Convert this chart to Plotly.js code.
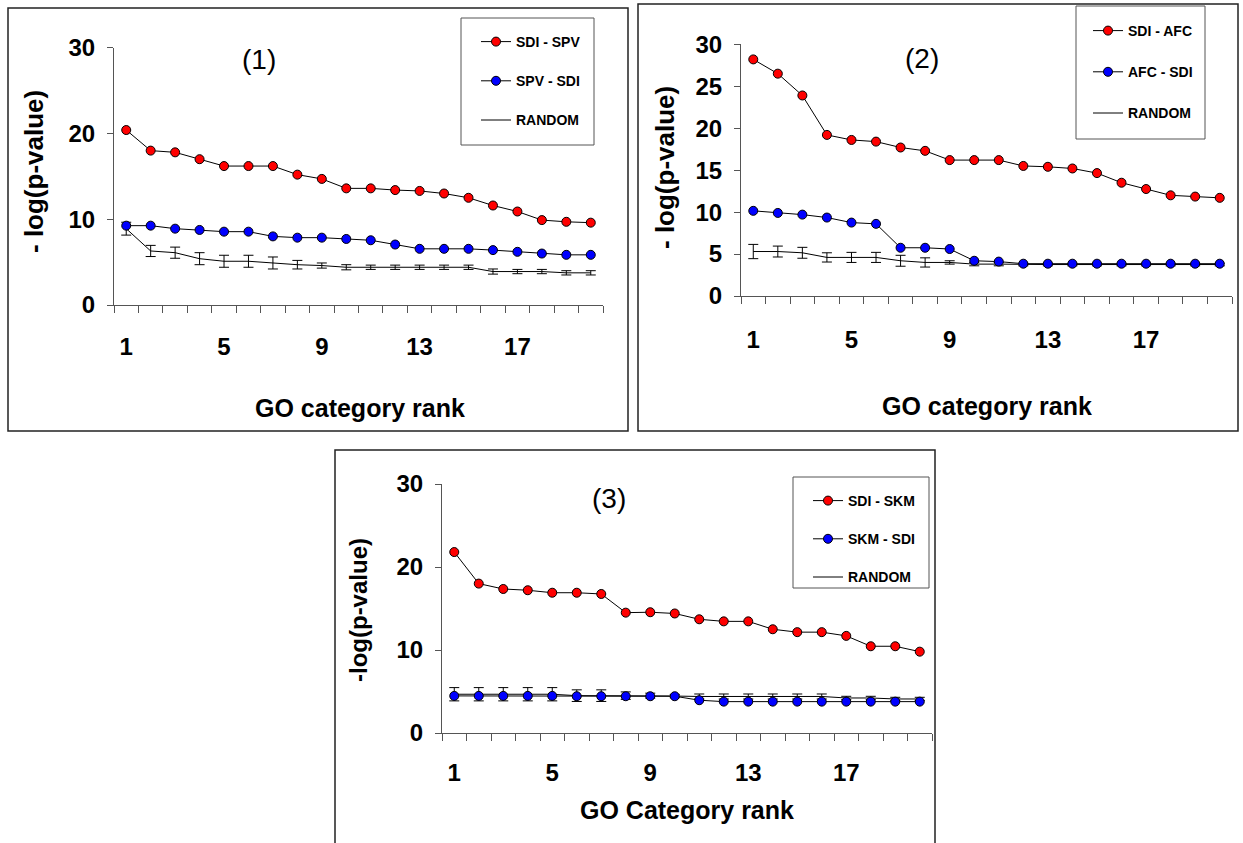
<!DOCTYPE html>
<html>
<head>
<meta charset="utf-8">
<script src="https://cdn.plot.ly/plotly-3.0.1.min.js"></script>
<style>html,body{margin:0;padding:0;background:#fff;}#chart{width:1243px;height:843px;}</style>
</head>
<body>
<div id="chart"></div>
<script>
// ---------- data ----------
const ranks = [1,2,3,4,5,6,7,8,9,10,11,12,13,14,15,16,17,18,19,20];
const rankTickVals = [1,5,9,13,17];
const rankTickText = ['1','5','9','13','17'];

// Panel (1)
const p1SdiSpv = [20.4,18.0,17.8,17.0,16.2,16.2,16.2,15.2,14.7,13.6,13.6,13.4,13.3,13.0,12.5,11.6,10.9,9.9,9.7,9.6];
const p1SpvSdi = [9.25,9.25,8.9,8.75,8.55,8.55,8.0,7.85,7.85,7.7,7.55,7.05,6.55,6.55,6.55,6.4,6.2,6.0,5.85,5.85];
const p1Random = [8.9,6.3,6.1,5.4,5.1,5.1,4.9,4.7,4.6,4.4,4.4,4.4,4.4,4.4,4.4,3.9,3.9,3.9,3.75,3.75];
const p1RandomErr = [0.75,0.65,0.65,0.7,0.7,0.7,0.7,0.5,0.3,0.3,0.25,0.25,0.25,0.25,0.25,0.3,0.25,0.25,0.25,0.25];

// Panel (2)
const p2SdiAfc = [28.2,26.5,23.9,19.2,18.6,18.4,17.7,17.3,16.2,16.2,16.2,15.5,15.4,15.2,14.65,13.5,12.75,12.0,11.85,11.7];
const p2AfcSdi = [10.15,9.9,9.7,9.35,8.75,8.6,5.75,5.75,5.6,4.2,4.1,3.85,3.85,3.85,3.85,3.85,3.85,3.85,3.85,3.85];
const p2Random = [5.3,5.3,5.15,4.6,4.6,4.6,4.2,4.0,4.0,3.8,3.8,3.75,3.75,3.75,3.75,3.75,3.75,3.75,3.75,3.75];
const p2RandomErr = [0.85,0.65,0.65,0.55,0.6,0.6,0.65,0.55,0.2,0.2,0.2,0.15,0.15,0.15,0.15,0.15,0.15,0.15,0.15,0.15];

// Panel (3)
const p3SdiSkm = [21.8,18.0,17.35,17.2,16.9,16.9,16.75,14.5,14.55,14.4,13.7,13.45,13.45,12.5,12.15,12.15,11.7,10.45,10.45,9.8];
const p3SkmSdi = [4.47,4.47,4.47,4.47,4.47,4.43,4.43,4.43,4.43,4.43,3.95,3.78,3.78,3.78,3.78,3.78,3.78,3.78,3.78,3.78];
const p3Random = [4.67,4.67,4.67,4.67,4.67,4.5,4.5,4.5,4.5,4.45,4.4,4.4,4.4,4.4,4.4,4.4,4.22,4.22,4.1,4.1];
const p3RandomErr = [0.8,0.8,0.8,0.8,0.8,0.7,0.7,0.45,0.3,0.2,0.3,0.3,0.3,0.3,0.3,0.3,0.2,0.2,0.2,0.2];

// ---------- helpers ----------
const W = 1243, H = 843;
const px = v => v / W;
const py = v => 1 - v / H;
const FONT = 'Liberation Sans, Arial, Helvetica, sans-serif';
const AXC = '#555';

function markerTrace(y, name, color, xa, ya, leg, grp) {
  return {
    x: ranks, y: y, name: name, type: 'scatter', mode: 'lines+markers',
    xaxis: xa, yaxis: ya, legend: leg, legendgroup: grp,
    line: {color: '#000', width: 1},
    marker: {color: color, size: 9, line: {color: '#000', width: 1}}
  };
}
function randomTrace(y, err, xa, ya, leg, grp) {
  return {
    x: ranks, y: y, name: 'RANDOM', type: 'scatter', mode: 'lines',
    xaxis: xa, yaxis: ya, legend: leg, legendgroup: grp,
    line: {color: '#000', width: 1},
    error_y: {type: 'data', array: err, visible: true, color: '#000', thickness: 1, width: 5}
  };
}

const traces = [
  randomTrace(p1Random, p1RandomErr, 'x', 'y', 'legend', 'g1c'),
  markerTrace(p1SpvSdi, 'SPV - SDI', '#0000FF', 'x', 'y', 'legend', 'g1b'),
  markerTrace(p1SdiSpv, 'SDI - SPV', '#FF0000', 'x', 'y', 'legend', 'g1a'),
  randomTrace(p2Random, p2RandomErr, 'x2', 'y2', 'legend2', 'g2c'),
  markerTrace(p2AfcSdi, 'AFC - SDI', '#0000FF', 'x2', 'y2', 'legend2', 'g2b'),
  markerTrace(p2SdiAfc, 'SDI - AFC', '#FF0000', 'x2', 'y2', 'legend2', 'g2a'),
  randomTrace(p3Random, p3RandomErr, 'x3', 'y3', 'legend3', 'g3c'),
  markerTrace(p3SkmSdi, 'SKM - SDI', '#0000FF', 'x3', 'y3', 'legend3', 'g3b'),
  markerTrace(p3SdiSkm, 'SDI - SKM', '#FF0000', 'x3', 'y3', 'legend3', 'g3a')
];
// legend order: red, blue, random
traces.forEach(t => { t.legendrank = t.name === 'RANDOM' ? 3 : (t.marker && t.marker.color === '#FF0000' ? 1 : 2); });

function xAxis(x0, x1, anchor, standoff) {
  return {
    domain: [px(x0), px(x1)], anchor: anchor, range: [0.5, 20.5],
    tickmode: 'array', tickvals: rankTickVals, ticktext: rankTickText,
    ticks: '', showgrid: false, zeroline: false,
    showline: true, linecolor: AXC, linewidth: 1,
    tickfont: {family: FONT, size: 24, color: '#000', weight: 'bold'},
    ticklabelstandoff: standoff,
    minor: {ticks: 'outside', tick0: 0.5, dtick: 1, ticklen: 7, tickcolor: AXC, tickwidth: 1, showgrid: false}
  };
}
function yAxis(yTop, yBot, anchor, dtick) {
  return {
    domain: [py(yBot), py(yTop)], anchor: anchor, range: [0, 30],
    tickmode: 'linear', tick0: 0, dtick: dtick,
    ticks: 'outside', ticklen: 6, tickcolor: AXC, tickwidth: 1,
    showgrid: false, zeroline: false,
    showline: true, linecolor: AXC, linewidth: 1,
    tickfont: {family: FONT, size: 24, color: '#000', weight: 'bold'},
    ticklabelstandoff: 7
  };
}
function legendAt(x, y, gap) {
  return {
    x: px(x), y: py(y), xanchor: 'left', yanchor: 'top',
    bgcolor: 'rgba(0,0,0,0)', borderwidth: 0,
    font: {family: FONT, size: 14, color: '#000', weight: 'bold'},
    tracegroupgap: gap, traceorder: 'grouped'
  };
}
function rect(x0, y0, x1, y1, color, width) {
  return {type: 'rect', xref: 'paper', yref: 'paper', x0: px(x0), x1: px(x1), y0: py(y1), y1: py(y0),
          line: {color: color, width: width}, fillcolor: 'rgba(0,0,0,0)', layer: 'below'};
}
function txt(text, x, y, size, bold, angle) {
  return {text: text, xref: 'paper', yref: 'paper', x: px(x), y: py(y), xanchor: 'center', yanchor: 'middle',
          showarrow: false, textangle: angle || 0,
          font: {family: FONT, size: size, color: '#000', weight: bold ? 'bold' : 'normal'}};
}

const layout = {
  width: W, height: H, margin: {l: 0, r: 0, t: 0, b: 0},
  paper_bgcolor: '#fff', plot_bgcolor: 'rgba(0,0,0,0)',
  showlegend: true,
  xaxis: xAxis(114, 603, 'y', 20),
  yaxis: yAxis(47.7, 305, 'x', 10),
  xaxis2: xAxis(741, 1232, 'y2', 22),
  yaxis2: yAxis(44.3, 296, 'x2', 5),
  xaxis3: xAxis(442, 932, 'y3', 18),
  yaxis3: yAxis(484, 733, 'x3', 10),
  legend: legendAt(476, 26, 18),
  legend2: legendAt(1088, 15, 20),
  legend3: legendAt(808, 485, 17),
  shapes: [
    rect(8, 8, 628, 431, '#222', 1.5),
    rect(638, 4, 1238, 431, '#222', 1.5),
    rect(335, 450, 935, 860, '#222', 1.5),
    rect(461, 18, 594, 145, '#555', 1),
    rect(1076, 6, 1205, 139, '#555', 1),
    rect(793, 477, 929, 588, '#555', 1)
  ],
  annotations: [
    txt('(1)', 259, 60, 28, false),
    txt('(2)', 922, 58, 28, false),
    txt('(3)', 609, 498, 28, false),
    txt('- log(p-value)', 34, 172, 26, true, -90),
    txt('- log(p-value)', 665, 168, 26, true, -90),
    txt('-log(p-value)', 358, 610, 24, true, -90),
    txt('GO category rank', 360, 408, 25, true),
    txt('GO category rank', 987, 406, 25, true),
    txt('GO Category rank', 687, 810, 25, true)
  ]
};

Plotly.newPlot('chart', traces, layout, {displayModeBar: false, staticPlot: true});
</script>
</body>
</html>
